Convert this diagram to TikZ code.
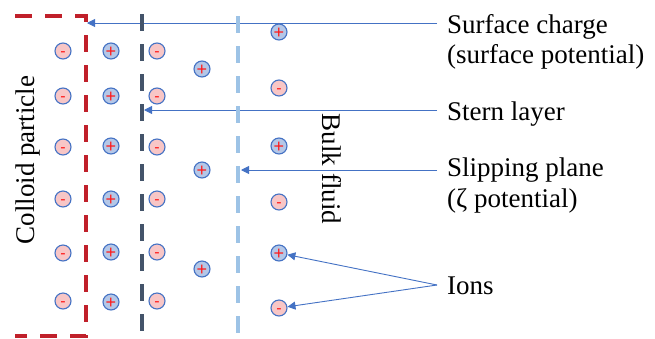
\documentclass[tikz,border=0pt]{standalone}
\usepackage{fontspec}
\setmainfont{Liberation Serif}
\newfontfamily\signfont{Liberation Sans}
\usetikzlibrary{arrows.meta}
\definecolor{ionblue}{HTML}{4472C4}
\definecolor{arrowblue}{HTML}{4472C4}
\definecolor{posfill}{HTML}{B4C7E7}
\definecolor{negfill}{HTML}{F8C6C6}
\definecolor{signred}{HTML}{FF1A1A}
\definecolor{boxred}{HTML}{C0202A}
\definecolor{sterndark}{HTML}{44546A}
\definecolor{sliplight}{HTML}{9DC3E6}
\newcommand\ionsign[2]{\makebox[0pt]{\raisebox{#1}[0pt][0pt]{#2}}}
\begin{document}
\begin{tikzpicture}[x=1pt,y=-1pt,
  ion/.style={circle, draw=ionblue, line width=1.1pt, minimum size=16pt, inner sep=0pt, text=signred},
  posion/.style={ion, fill=posfill, font=\signfont\fontsize{18}{18}\selectfont},
  negion/.style={ion, fill=negfill, font=\signfont\fontsize{16}{16}\selectfont},
  lbl/.style={inner sep=0pt, font=\fontsize{27}{32}\selectfont},
  pointer/.style={draw=arrowblue, line width=0.9pt, -{Triangle[length=8pt,width=8pt]}},
  plane/.style={line width=3.8pt, dash pattern=on 17pt off 13pt}
]
\useasboundingbox (0,0) rectangle (655,338);

% labels
\node[lbl, anchor=base west] (sc) at (447,33) {Surface charge};
\node[lbl, anchor=base west] (sp) at (447,63) {(surface potential)};
\node[lbl, anchor=base west] (st) at (447,120) {Stern layer};
\node[lbl, anchor=base west] (sl) at (447,176) {Slipping plane};
\node[lbl, anchor=base west] (zp) at (447,207) {(ζ potential)};
\node[lbl, anchor=base west] (io) at (447,294) {Ions};
\node[lbl, anchor=base, rotate=90] (cp) at (34,160) {Colloid particle};
\node[lbl, anchor=base, rotate=-90] (bf) at (322,169) {Bulk fluid};

% ions
\foreach \y [count=\i] in {51,96,147,199,253,301} \node[negion] (a\i) at (63,\y) {\ionsign{-5.6pt}{-}};
\foreach \y [count=\i] in {51,96,146,199,252,302} \node[posion] (b\i) at (111,\y) {\ionsign{-6.4pt}{+}};
\foreach \y [count=\i] in {51,96,147,199,252,301} \node[negion] (c\i) at (157,\y) {\ionsign{-5.6pt}{-}};
\foreach \y [count=\i] in {69,170,269} \node[posion] (d\i) at (202,\y) {\ionsign{-6.4pt}{+}};
\node[posion] (e1) at (279,32) {\ionsign{-6.4pt}{+}};
\node[negion] (e2) at (279,88) {\ionsign{-5.6pt}{-}};
\node[posion] (e3) at (279,146) {\ionsign{-6.4pt}{+}};
\node[negion] (e4) at (279,202) {\ionsign{-5.6pt}{-}};
\node[posion] (e5) at (279,253) {\ionsign{-6.4pt}{+}};
\node[negion] (e6) at (279,308) {\ionsign{-5.6pt}{-}};

% pointer coordinates
\coordinate (scs) at (437,23);
\coordinate (sts) at (437,110);
\coordinate (sls) at (437,170);
\coordinate (ios) at (437,285);
\coordinate (sct) at (87,23);
\coordinate (stt) at (144,110);
\coordinate (slt) at (241,170);

\draw[pointer] (scs) -- (sct);
\draw[pointer] (sts) -- (stt);
\draw[pointer] (sls) -- (slt);
\draw[pointer] (ios) -- (e5);
\draw[pointer] (ios) -- (e6);

% planes
\coordinate (r1) at (15,16);
\coordinate (r2) at (86,16);
\coordinate (r3) at (86,336);
\coordinate (r4) at (15,336);
\draw[plane, draw=boxred, line width=3.4pt] (r1) -- (r2) -- (r3) -- (r4);
\coordinate (s1) at (142,14);
\coordinate (s2) at (142,333);
\draw[plane, draw=sterndark] (s1) -- (s2);
\coordinate (p1) at (238,16);
\coordinate (p2) at (238,335);
\draw[plane, draw=sliplight] (p1) -- (p2);
\end{tikzpicture}
\end{document}
